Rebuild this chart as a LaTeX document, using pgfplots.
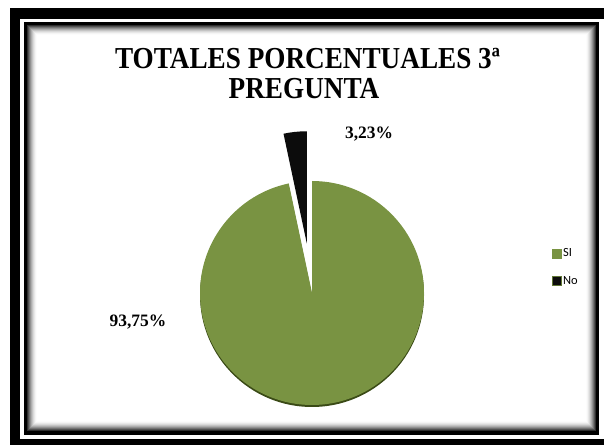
\documentclass[border=0pt]{standalone}
\usepackage{graphicx}
\usepackage{pgfplots}
\pgfplotsset{compat=1.18}
\usepackage{pgfplotstable}
\usepackage{fontspec}
\setmainfont{Liberation Serif}
\newfontfamily\legfont{Carlito}
\definecolor{sigreen}{RGB}{121,147,66}
\definecolor{sidark}{RGB}{58,74,22}
\definecolor{noblack}{RGB}{12,12,12}

\pgfplotstableread{
label value
SI 93.75
No 3.23
}\piedata

\begin{document}
\begin{tikzpicture}
\pgfplotstablegetelem{0}{value}\of\piedata \let\vSI\pgfplotsretval
\pgfplotstablegetelem{1}{value}\of\piedata \let\vNo\pgfplotsretval
\pgfmathsetmacro\tot{\vSI+\vNo}
\pgfmathsetmacro\aSI{360*(\vSI/\tot)}
\pgfmathsetmacro\aNo{360*(\vNo/\tot)}
\pgfmathsetmacro\bisNo{90+\aNo/2}
\begin{axis}[
  width=604bp, height=445bp, scale only axis,
  xmin=0, xmax=604, ymin=0, ymax=445,
  hide axis,
  legend style={at={(axis cs:549,200)}, anchor=north west, draw=none, fill=none,
    font=\legfont\fontsize{12.5}{14}\selectfont, row sep=15bp,
    nodes={inner sep=1.5bp}, cells={anchor=west}},
  legend image code/.code={\draw[#1] (0bp,-4.5bp) rectangle (9bp,4.5bp);},
]
% background and frame
\fill[white] (axis cs:0,0) rectangle (axis cs:604,445);
\fill[black] (axis cs:10,0) rectangle (axis cs:604,437);
\fill[white] (axis cs:20,6) rectangle (axis cs:604,426);
\fill[black] (axis cs:23.5,10) rectangle (axis cs:599,423);
\fill[black!82] (axis cs:27,14) rectangle (axis cs:596,420);
\fill[black!68] (axis cs:28,15) rectangle (axis cs:595,419);
\fill[black!55] (axis cs:29,16) rectangle (axis cs:594,418);
\fill[black!43] (axis cs:30,17) rectangle (axis cs:593,417);
\fill[black!32] (axis cs:31,18) rectangle (axis cs:592,416);
\fill[black!23] (axis cs:32,19) rectangle (axis cs:591,415);
\fill[black!15] (axis cs:33,20) rectangle (axis cs:590,414);
\fill[black!9] (axis cs:34,21) rectangle (axis cs:589,413);
\fill[black!4] (axis cs:35,22) rectangle (axis cs:588,412);
\fill[black!1] (axis cs:36,23) rectangle (axis cs:587,411);
\fill[white] (axis cs:37,24) rectangle (axis cs:586,410);
% pie: SI
\fill[sidark] (axis cs:312,150) -- ++(90:112bp) arc[start angle=90, end angle={90-\aSI}, radius=112bp] -- cycle;
\fill[sigreen] (axis cs:312,152) -- ++(90:112bp) arc[start angle=90, end angle={90-\aSI}, radius=112bp] -- cycle;
% pie: No (exploded)
\fill[noblack] (axis cs:312,152) ++(\bisNo:50bp) -- ++(90:112bp) arc[start angle=90, end angle={90+\aNo}, radius=112bp] -- cycle;
% labels
\node[font=\bfseries\fontsize{17.5}{20}\selectfont] at (axis cs:369,311) {3,23\%};
\node[font=\bfseries\fontsize{17.5}{20}\selectfont] at (axis cs:138,123) {93,75\%};
% title
\node[anchor=base, inner sep=0pt, font=\bfseries\fontsize{27.3}{30}\selectfont] at (axis cs:307.5,376) {\scalebox{1}[1.12]{TOTALES PORCENTUALES 3ª}};
\node[anchor=base, inner sep=0pt, font=\bfseries\fontsize{27.3}{30}\selectfont] at (axis cs:304,346) {\scalebox{1}[1.12]{PREGUNTA}};
% legend
\addlegendimage{fill=sigreen, draw=sigreen}
\addlegendentry{SI}
\addlegendimage{fill=noblack, draw=sigreen!80!black}
\addlegendentry{No}
\end{axis}
\end{tikzpicture}
\end{document}
